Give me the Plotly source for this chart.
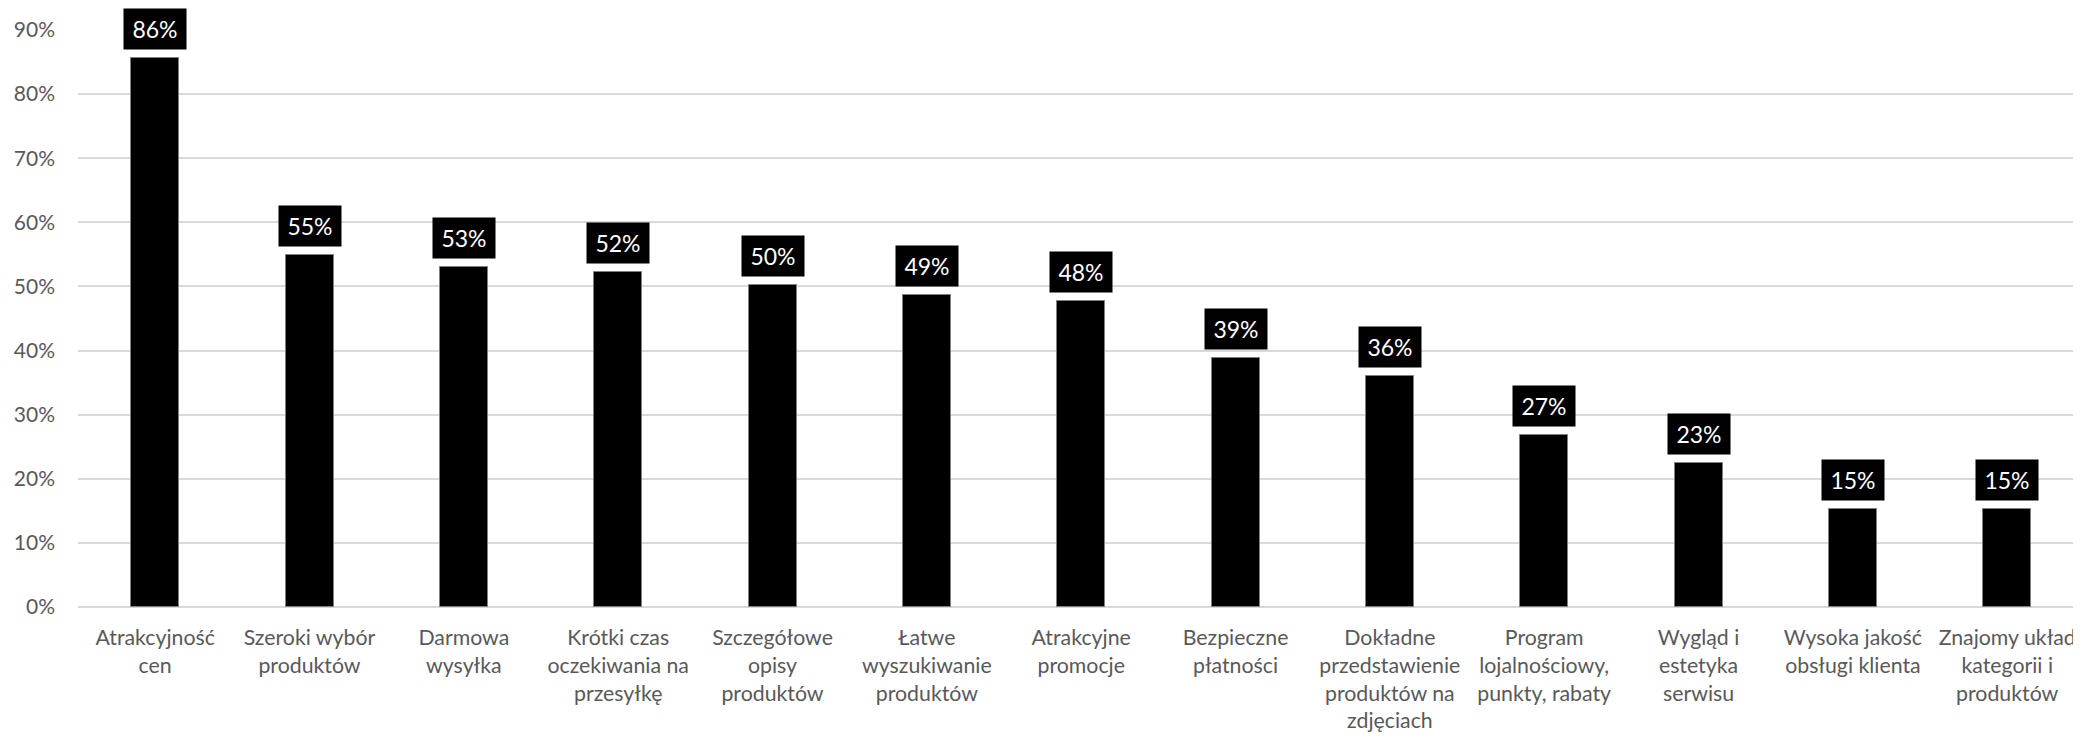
import plotly.graph_objects as go

categories = [
    "Atrakcyjność<br>cen",
    "Szeroki wybór<br>produktów",
    "Darmowa<br>wysyłka",
    "Krótki czas<br>oczekiwania na<br>przesyłkę",
    "Szczegółowe<br>opisy<br>produktów",
    "Łatwe<br>wyszukiwanie<br>produktów",
    "Atrakcyjne<br>promocje",
    "Bezpieczne<br>płatności",
    "Dokładne<br>przedstawienie<br>produktów na<br>zdjęciach",
    "Program<br>lojalnościowy,<br>punkty, rabaty",
    "Wygląd i<br>estetyka<br>serwisu",
    "Wysoka jakość<br>obsługi klienta",
    "Znajomy układ<br>kategorii i<br>produktów",
]
values = [0.856, 0.549, 0.531, 0.522, 0.503, 0.487, 0.477, 0.388, 0.360, 0.269, 0.224, 0.153, 0.153]
labels = ["86%", "55%", "53%", "52%", "50%", "49%", "48%", "39%", "36%", "27%", "23%", "15%", "15%"]
y_ticks = [0, 0.1, 0.2, 0.3, 0.4, 0.5, 0.6, 0.7, 0.8, 0.9]

xpos = list(range(len(categories)))
FONT = "Lato, 'Open Sans', sans-serif"

fig = go.Figure()
fig.add_trace(go.Bar(
    x=xpos, y=values, width=0.311,
    marker=dict(color="black", line=dict(color="#7f7f7f", width=1)),
    hoverinfo="skip",
))

annotations = []
for xv, v, t in zip(xpos, values, labels):
    annotations.append(dict(
        x=xv, y=v, xref="x", yref="y", text=t, showarrow=False,
        yanchor="bottom", xanchor="center", yshift=8,
        bgcolor="black", width=62, height=40, borderpad=0,
        font=dict(family=FONT, size=23, color="white"),
    ))

fig.update_layout(
    width=2081, height=736,
    margin=dict(l=70, r=0, t=22, b=137, autoexpand=False),
    paper_bgcolor="white", plot_bgcolor="white",
    showlegend=False,
    bargap=0,
    annotations=annotations,
    xaxis=dict(
        range=[-0.5, 12.53], automargin=False,
        tickmode="array", tickvals=xpos, ticktext=categories,
        tickfont=dict(family=FONT, size=21.3, color="#595959"),
        showgrid=False, zeroline=False, showline=False,
        ticks="", tickangle=0, ticklabelstandoff=16,
    ),
    yaxis=dict(
        range=[0, 0.9], automargin=False,
        tickmode="array", tickvals=y_ticks,
        ticktext=[f"{int(round(v*100))}%" for v in y_ticks],
        tickfont=dict(family=FONT, size=21, color="#595959"),
        showgrid=True, gridcolor="#d9d9d9", gridwidth=1.5,
        zeroline=True, zerolinecolor="#d9d9d9", zerolinewidth=1.5,
        showline=False, ticks="", ticklabelstandoff=22,
    ),
)

fig.write_html("out.html")
